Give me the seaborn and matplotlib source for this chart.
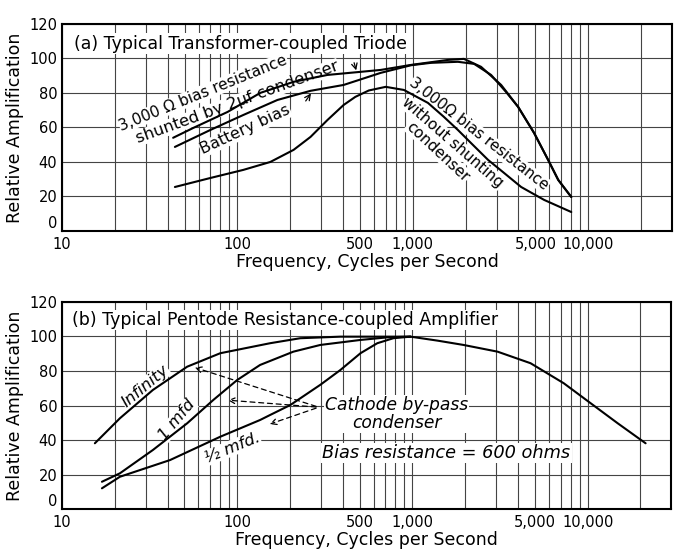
import matplotlib
matplotlib.use("Agg")
import matplotlib.pyplot as plt
import seaborn as sns
import pandas as pd

# (a) transformer-coupled triode
freq_shunted = [43, 56, 88, 135, 209, 326, 505, 656, 975, 1585, 1954, 2447, 3186, 3981, 4909, 5902, 6740, 8000]
amp_shunted = [54, 59.7, 69, 80, 86.4, 90.4, 92.2, 93.3, 96.2, 99.1, 99.7, 95.1, 84.6, 71.9, 56.8, 41.2, 29.6, 19.7]

freq_battery = [44, 70, 108, 169, 261, 403, 656, 975, 1268, 1807, 2235, 2792, 3400, 3981, 4909, 5902, 6740, 8000]
amp_battery = [48.7, 58.5, 67.2, 75.9, 81.2, 84.6, 91.6, 96.0, 97.4, 98.0, 96.8, 90.4, 80.5, 71.9, 56.8, 41.2, 29.6, 19.7]

freq_unshunted = [44, 70, 108, 154, 209, 261, 326, 403, 470, 561, 700, 889, 1219, 1503, 1807, 2143, 2683, 3313, 4142, 5605, 8000]
amp_unshunted = [25.5, 30.7, 35.4, 40, 47, 54.5, 64.3, 73, 77.7, 81.4, 83.5, 81.7, 74.2, 66.1, 58.5, 51, 41.2, 33.6, 25.5, 18, 11]

# (b) pentode resistance-coupled
freq_inf = [15.4, 21.4, 33, 51.8, 80, 154, 229, 388, 975, 1390, 1955, 3060, 4720, 7300, 10400, 14830, 21400]
amp_inf = [38.1, 52.6, 69, 82.5, 90.3, 96.1, 99, 99.9, 99.9, 97.6, 95.1, 91.2, 84.5, 72.9, 61.3, 49.7, 38.1]

freq_1mfd = [16.9, 21.4, 33, 51.8, 73, 100, 135, 209, 298, 505, 720, 975]
amp_1mfd = [15.8, 20.7, 34.2, 49.7, 63.2, 74.8, 83.5, 91.2, 95.1, 98, 99.5, 99.9]

freq_half = [16.9, 21.4, 41.4, 80, 135, 154, 201, 298, 388, 505, 630, 778, 975]
amp_half = [12, 18.7, 28.4, 41.9, 51.6, 54.5, 60.3, 72, 80.6, 90.3, 96.1, 99, 99.9]

xtick_vals = [10, 100, 500, 1000, 5000, 10000]
xtick_labels = ["10", "100", "500", "1,000", "5,000", "10,000"]
ytick_vals = [0, 20, 40, 60, 80, 100, 120]
grid_freqs = [m * d for d in (10, 100, 1000) for m in range(2, 10)] + [20000]


def frame(pairs):
    parts = []
    for name, f, a in pairs:
        parts.append(pd.DataFrame({"freq": f, "amp": a, "curve": name}))
    return pd.concat(parts, ignore_index=True)


df_a = frame([("shunted", freq_shunted, amp_shunted),
              ("battery", freq_battery, amp_battery),
              ("unshunted", freq_unshunted, amp_unshunted)])
df_b = frame([("inf", freq_inf, amp_inf),
              ("1mfd", freq_1mfd, amp_1mfd),
              ("half", freq_half, amp_half)])

sns.set_style("white")
plt.rcParams["font.family"] = ["DejaVu Sans"]
plt.rcParams["text.color"] = "black"
plt.rcParams["axes.labelcolor"] = "black"
plt.rcParams["xtick.color"] = "black"
plt.rcParams["ytick.color"] = "black"

fig, (ax1, ax2) = plt.subplots(2, 1, figsize=(6.77, 5.54), dpi=100)
ax1.set_position([0.0916, 0.583, 0.901, 0.374])
ax2.set_position([0.0916, 0.0812, 0.900, 0.3737])

for ax, df in ((ax1, df_a), (ax2, df_b)):
    sns.lineplot(data=df, x="freq", y="amp", hue="curve", units="curve",
                 estimator=None, palette=["black"] * 3, legend=False,
                 linewidth=1.5, ax=ax)
    ax.set_xscale("log")
    ax.set_xticks(xtick_vals)
    ax.set_xticklabels(xtick_labels)
    ax.set_xticks(grid_freqs, minor=True)
    ax.set_xticklabels([], minor=True)
    ax.set_xlim(10, 30000)
    ax.set_ylim(0, 120)
    ax.set_yticks(ytick_vals)
    ax.tick_params(which="both", length=0, labelsize=10.5)
    ax.tick_params(axis="x", pad=4)
    ax.get_yticklabels()[0].set_va("bottom")
    ax.grid(True, which="both", axis="x", color="#444444", linewidth=0.8)
    ax.grid(True, which="major", axis="y", color="#444444", linewidth=0.8)
    for s in ax.spines.values():
        s.set_color("black")
        s.set_linewidth(1.5)
    ax.set_xlabel("Frequency, Cycles per Second", fontsize=12.5, labelpad=1)
    ax.set_ylabel("Relative Amplification", fontsize=12.5, labelpad=4)

box = dict(facecolor="white", edgecolor="none", pad=1)
lbl = dict(facecolor="white", edgecolor="none", pad=0.3)
kw = dict(ha="center", va="center", rotation_mode="anchor", zorder=1.5, bbox=lbl)

# panel (a) texts
ax1.text(0.02, 0.905, "(a) Typical Transformer-coupled Triode", transform=ax1.transAxes,
         fontsize=12.5, va="center", ha="left", bbox=box)
ax1.text(64, 80, "3,000 Ω bias resistance", rotation=22, fontsize=11, **kw)
ax1.text(100, 74.5, "shunted by 2µf condenser", rotation=20, fontsize=11.8, **kw)
ax1.annotate("", xy=(480, 91.5), xytext=(458, 99),
             arrowprops=dict(arrowstyle="->", color="black", lw=0.9))
ax1.text(111, 58.6, "Battery bias", rotation=25, fontsize=11.5, **kw)
ax1.annotate("", xy=(268, 81), xytext=(240, 74),
             arrowprops=dict(arrowstyle="->", color="black", lw=0.9))
ax1.text(2383, 56, "3,000Ω bias resistance", rotation=-38, fontsize=10.8, **kw)
ax1.text(1693, 51, "without shunting", rotation=-41, fontsize=11, **kw)
ax1.text(1390, 46, "condenser", rotation=-43, fontsize=11, **kw)

# panel (b) texts
ax2.text(0.016, 0.913, "(b) Typical Pentode Resistance-coupled Amplifier", transform=ax2.transAxes,
         fontsize=12.5, va="center", ha="left", bbox=box)
ax2.text(29.8, 71.3, "Infinity", rotation=40, fontsize=11.8, style="italic", **kw)
ax2.text(45.4, 51.6, "1 mfd", rotation=50, fontsize=11.8, style="italic", **kw)
ax2.text(93.6, 35.4, "½ mfd.", rotation=22, fontsize=11.8, style="italic", **kw)
ax2.text(811, 55, "Cathode by-pass\ncondenser", fontsize=12.3, style="italic",
         ha="center", va="center", linespacing=0.95, bbox=box)
ax2.text(1563, 32.5, "Bias resistance = 600 ohms", fontsize=12.8, style="italic",
         ha="center", va="center", bbox=box)
for head in [(55.3, 82.5), (85.3, 63.2), (148, 48.7)]:
    ax2.annotate("", xy=head, xytext=(292, 59),
                 arrowprops=dict(arrowstyle="->", color="black", lw=0.9,
                                 linestyle=(0, (4, 3))))

fig.savefig("out.png", dpi=100)
